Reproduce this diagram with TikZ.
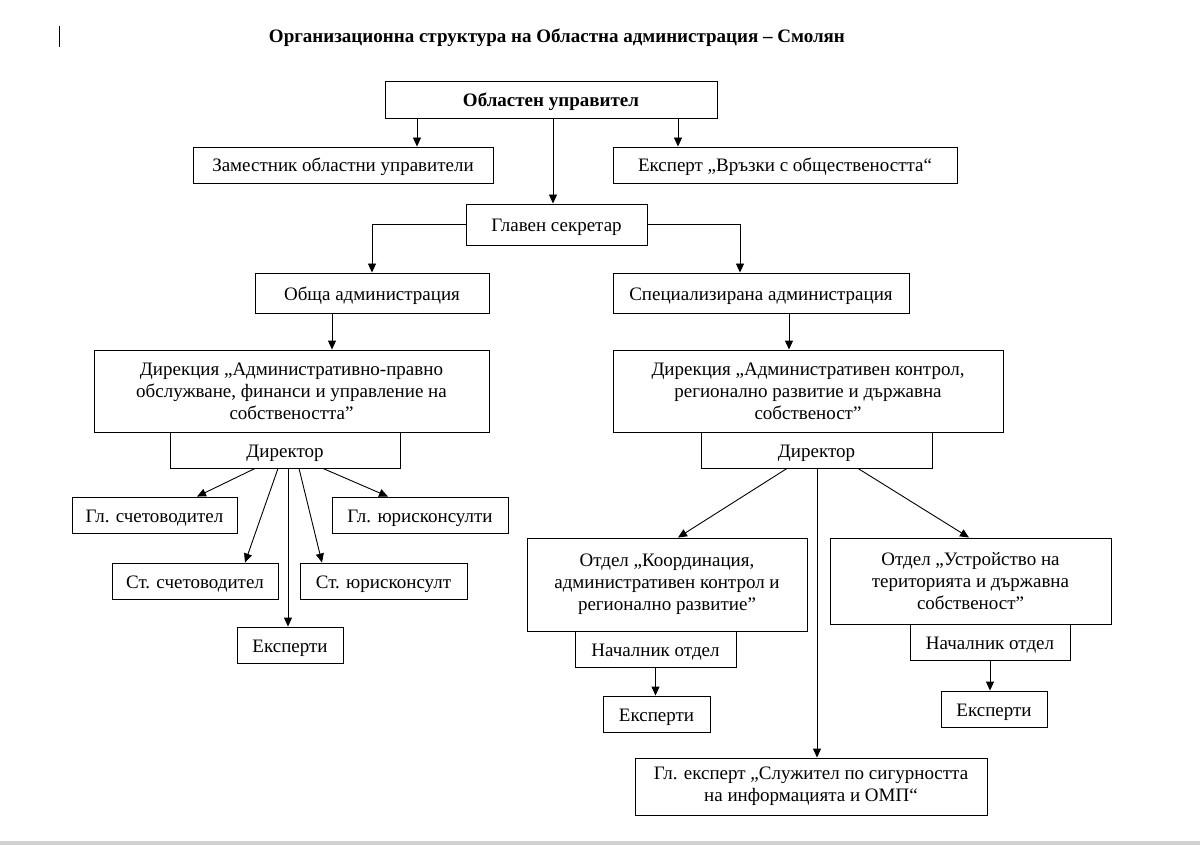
\documentclass[tikz,border=0pt]{standalone}
\usepackage{fontspec}
\setmainfont{Liberation Serif}
\usetikzlibrary{arrows.meta}
\tikzset{
  box/.style={draw=black, line width=0.9pt, inner sep=0pt, align=center,
    font=\fontsize{19}{22}\selectfont},
  one/.style={text height=18pt, text depth=4pt},
  arr/.style={draw=black, line width=0.9pt, -{Triangle[length=9pt,width=8pt]}},
  ln/.style={draw=black, line width=0.9pt},
}
\newcommand{\bx}[7]{% name, x1, y1, x2, y2, extra, text
  \node[box, minimum width={#4-#2}, minimum height={#5-#3}, #6] (#1) at ({(#2+#4)/2},{(#3+#5)/2}) {#7};}
\begin{document}
\begin{tikzpicture}[x=1pt,y=-1pt]
\useasboundingbox (0,0) rectangle (1200,845);
\fill[gray!35] (0,841) rectangle (1200,845);
\draw[line width=1pt] (59,26) -- (59,47);
\node[font=\fontsize{19}{22}\selectfont\bfseries] (title) at (557,38) {Организационна структура на Областна администрация – Смолян};

\bx{gov}{385}{81}{717}{118}{one, font=\fontsize{19}{22}\selectfont\bfseries}{Областен управител}
\bx{dep}{193}{147}{493}{183}{one}{Заместник областни управители}
\bx{pr}{613}{147}{957}{183}{one}{Експерт „Връзки с обществеността“}
\bx{sec}{466}{204}{647}{245}{one}{Главен секретар}
\bx{gen}{255}{273}{489}{313}{one}{Обща администрация}
\bx{spec}{613}{273}{909}{313}{one}{Специализирана администрация}
\bx{dirL}{94}{350}{489}{432}{}{Дирекция „Административно-правно\\обслужване, финанси и управление на\\собствеността”}
\bx{dirR}{613}{350}{1003}{432}{}{Дирекция „Административен контрол,\\регионално развитие и държавна\\собственост”}
\bx{drL}{170}{432}{400}{468}{one}{Директор}
\bx{drR}{701}{432}{932}{468}{one}{Директор}
\bx{acc1}{72}{497}{237}{533}{one}{Гл. счетоводител}
\bx{acc2}{112}{563}{278}{599}{one}{Ст. счетоводител}
\bx{expL}{237}{627}{343}{663}{one}{Експерти}
\bx{law2}{300}{563}{467}{599}{one}{Ст. юрисконсулт}
\bx{law1}{332}{497}{508}{533}{one}{Гл. юрисконсулти}
\bx{depA}{527}{538}{807}{631}{}{Отдел „Координация,\\административен контрол и\\регионално развитие”}
\bx{headA}{575}{631}{736}{667}{one}{Началник отдел}
\bx{expA}{603}{696}{710}{732}{one}{Експерти}
\bx{depB}{830}{538}{1111}{624}{}{Отдел „Устройство на\\територията и държавна\\собственост”}
\bx{headB}{910}{624}{1070}{660}{one}{Началник отдел}
\bx{expB}{941}{691}{1047}{727}{one}{Експерти}
\bx{sec2}{635}{758}{987}{815}{}{Гл. експерт „Служител по сигурността\\на информацията и ОМП“}

% top level
\coordinate (c1) at ([xshift=74pt]dep.north);
\draw[arr] (c1 |- gov.south) -- (c1);
\coordinate (c2) at ([xshift=-107pt]pr.north);
\draw[arr] (c2 |- gov.south) -- (c2);
\coordinate (c3) at ([xshift=2pt]gov.south);
\draw[arr] (c3) -- (c3 |- sec.north);
\draw[arr] (sec.west) -| (gen.north);
\coordinate (c4) at ([xshift=-21pt]spec.north);
\draw[arr] (sec.east) -| (c4);
\coordinate (c5) at ([xshift=40.5pt]dirL.north);
\draw[arr] (c5 |- gen.south) -- (c5);
\coordinate (c6) at ([xshift=-19pt]dirR.north);
\draw[arr] (c6 |- spec.south) -- (c6);

% left director
\draw[arr] ([xshift=-30pt]drL.south) -- ([xshift=42.5pt]acc1.north);
\draw[arr] ([xshift=-7pt]drL.south) -- ([xshift=50pt]acc2.north);
\coordinate (c7) at ([xshift=-2pt]expL.north);
\draw[arr] (c7 |- drL.south) -- (c7);
\draw[arr] ([xshift=14pt]drL.south) -- ([xshift=-61.5pt]law2.north);
\draw[arr] ([xshift=38pt]drL.south) -- ([xshift=-32pt]law1.north);

% right director
\draw[arr] ([xshift=-29.5pt]drR.south) -- ([xshift=11pt]depA.north);
\draw[arr] ([xshift=41.5pt]drR.south) -- ([xshift=-1.5pt]depB.north);
\coordinate (c8) at ([xshift=6pt]sec2.north);
\draw[arr] (c8 |- drR.south) -- (c8);
\draw[arr] (headA.south) -- (headA.south |- expA.north);
\draw[arr] (headB.south) -- (headB.south |- expB.north);
\end{tikzpicture}
\end{document}
